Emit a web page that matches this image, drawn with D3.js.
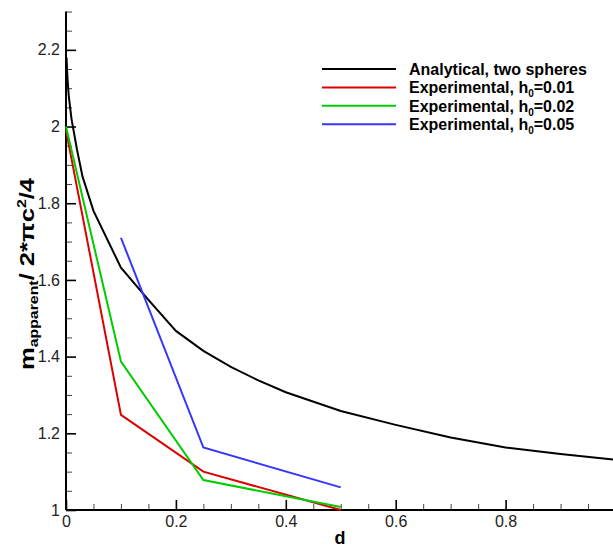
<!DOCTYPE html>
<html>
<head>
<meta charset="utf-8">
<script src="https://cdn.jsdelivr.net/npm/d3@7"></script>
<style>
	body { margin: 0; background: #fff; }
	svg { display: block; overflow: hidden; }
	text { font-family: "Liberation Sans", Arial, sans-serif; }
</style>
</head>
<body>
<svg id="graph" width="613" height="548"></svg>
<script>
// analytical curve, two spheres
const analyticD = [0.001, 0.0025, 0.005, 0.01, 0.02, 0.03, 0.05, 0.1, 0.15, 0.2, 0.25, 0.3, 0.35, 0.4, 0.5, 0.6, 0.7, 0.8, 0.9, 1.0];
const analyticM = [2.18, 2.13, 2.08, 2.02, 1.94, 1.87, 1.78, 1.632, 1.548, 1.467, 1.415, 1.373, 1.338, 1.307, 1.258, 1.222, 1.189, 1.163, 1.146, 1.131];

// experimental runs
const expD = [0, 0.1, 0.25, 0.5];
const expH001 = [1.99, 1.248, 1.1, 1.0];
const expH002 = [2.0, 1.387, 1.078, 1.008];
const blueD = [0.1, 0.25, 0.5];
const expH005 = [1.71, 1.163, 1.059];

const xMajor = [0, 0.2, 0.4, 0.6, 0.8];
const yMajor = [1, 1.2, 1.4, 1.6, 1.8, 2.0, 2.2];

const legendNames = ["Analytical, two spheres", "Experimental, h", "Experimental, h", "Experimental, h"];
const legendH0 = [null, "0.01", "0.02", "0.05"];
const colors = ["#000000", "#dd0000", "#00cc00", "#3535ff"];

var graph = d3.select("#graph");

var x = d3.scaleLinear()
	.domain([0, 1])
	.range([66, 615.5]);

var y = d3.scaleLinear()
	.domain([1, 2.3])
	.range([510, 11.5]);

var xMinor = d3.range(0, 1.001, 0.05).filter(v => Math.abs(v * 5 - Math.round(v * 5)) > 1e-6);
var yMinor = d3.range(1, 2.301, 0.05).filter(v => Math.abs(v * 5 - Math.round(v * 5)) > 1e-6);

//minor ticks
graph.append("g")
	.attr("transform", "translate(0," + y(1) + ")")
	.call(d3.axisBottom(x).tickValues(xMinor).tickSize(-6).tickFormat(""))
	.call(g => g.select(".domain").remove())
	.selectAll("line").attr("stroke", "#444");
graph.append("g")
	.attr("transform", "translate(" + x(0) + ",0)")
	.call(d3.axisLeft(y).tickValues(yMinor).tickSize(-6).tickFormat(""))
	.call(g => g.select(".domain").remove())
	.selectAll("line").attr("stroke", "#444");

//major ticks and labels
var xAxis = graph.append("g")
	.attr("transform", "translate(0," + y(1) + ")")
	.call(d3.axisBottom(x).tickValues(xMajor).tickSize(-10).tickPadding(6).tickFormat(d3.format("")));
var yAxis = graph.append("g")
	.attr("transform", "translate(" + x(0) + ",0)")
	.call(d3.axisLeft(y).tickValues(yMajor).tickSize(-10).tickPadding(6).tickFormat(d3.format("")));

[xAxis, yAxis].forEach(function(a){
	a.select(".domain").remove();
	a.selectAll("line").attr("stroke", "#000").attr("stroke-width", 1.6);
	a.selectAll("text")
		.style("font-family", "'Liberation Sans', Arial, sans-serif")
		.style("font-size", "16px")
		.attr("fill", "#222");
});

//axis lines
graph.append("line")
	.attr("x1", x(0)).attr("x2", 613)
	.attr("y1", y(1)).attr("y2", y(1))
	.attr("stroke", "#000").attr("stroke-width", 2);
graph.append("line")
	.attr("x1", x(0)).attr("x2", x(0))
	.attr("y1", y(1)).attr("y2", y(2.3))
	.attr("stroke", "#000").attr("stroke-width", 2);

//data lines
var line = d3.line()
	.x(d => x(d[0]))
	.y(d => y(d[1]));

var series = [
	d3.zip(analyticD, analyticM),
	d3.zip(expD, expH001),
	d3.zip(expD, expH002),
	d3.zip(blueD, expH005)
];

graph.selectAll(".series")
	.data(series)
	.enter()
	.append("path")
		.attr("class", "series")
		.attr("fill", "none")
		.attr("stroke", (d, i) => colors[i])
		.attr("stroke-width", 2)
		.attr("d", line);

//legend
var legend = graph.append("g")
	.attr("transform", "translate(322,69)");

var rows = legend.selectAll("g")
	.data(legendNames)
	.enter()
	.append("g")
		.attr("transform", (d, i) => "translate(0," + (i * 18.4) + ")");

rows.append("line")
	.attr("x1", 0).attr("x2", 74)
	.attr("stroke", (d, i) => colors[i])
	.attr("stroke-width", 2);

rows.append("text")
	.attr("x", 87)
	.attr("y", 6)
	.style("font-size", "16px")
	.style("font-weight", "bold")
	.text(d => d)
	.each(function(d, i){
		//subscript for h0
		if(legendH0[i] == null) return;
		var t = d3.select(this);
		t.append("tspan").attr("dy", 4).style("font-size", "10px").text("0");
		t.append("tspan").attr("dy", -4).text("=" + legendH0[i]);
	});

//axis titles
graph.append("text")
	.attr("x", 340)
	.attr("y", 544)
	.attr("text-anchor", "middle")
	.style("font-size", "18px")
	.style("font-weight", "bold")
	.text("d");

var yTitle = graph.append("text")
	.attr("transform", "translate(34,274) rotate(-90) scale(1.22,1)")
	.attr("text-anchor", "middle")
	.style("font-size", "21px")
	.style("font-weight", "bold");
yTitle.append("tspan").text("m");
yTitle.append("tspan").attr("dy", 4).style("font-size", "13px").text("apparent");
yTitle.append("tspan").attr("dy", -4).text("/ 2*\u03c0c");
yTitle.append("tspan").attr("dy", -8).style("font-size", "13px").text("2");
yTitle.append("tspan").attr("dy", 8).text("/4");
</script>
</body>
</html>
